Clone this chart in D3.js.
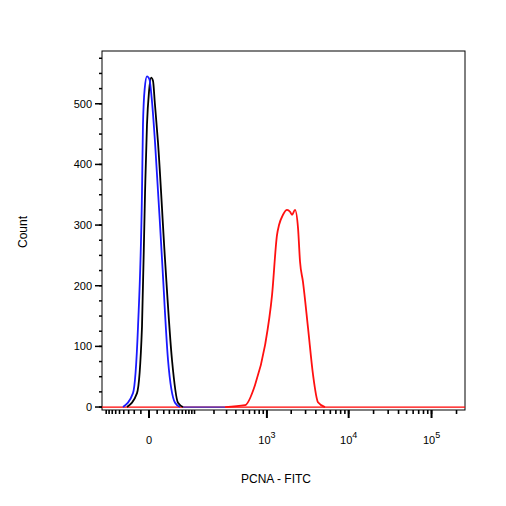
<!DOCTYPE html>
<html>
<head>
<meta charset="utf-8">
<script src="https://cdn.jsdelivr.net/npm/d3@7"></script>
<style>
  body { margin: 0; background: #fff; }
  text { font-family: Arial, "Liberation Sans", sans-serif; }
</style>
</head>
<body>
<div id="chart"></div>
<script>
// Histogram series: [fluorescence value, count]
const blueSeries = [[-41.8,0],[-22.1,23],[-14.1,132],[-8.5,353],[-7.2,465],[-5,525],[-2.3,545],[0.5,540],[3,510],[7.2,436],[17.2,243],[27.4,78],[41.8,7],[53.8,0]];
const blackSeries = [[-33.2,0],[-15.6,23],[-8.5,132],[-4.6,353],[-2.3,465],[0,520],[2.3,543],[4.6,538],[7,500],[11.2,436],[22.1,243],[35.2,78],[48.8,7],[62.0,0]];
const redSeries = [[286,0],[527,3],[707,36],[948,102],[1160,185],[1337,284],[1415,300],[1585,317],[1778,325],[1936,322],[2047,317],[2228,325],[2425,295],[2565,240],[2790,206],[3215,130],[3700,53],[4250,8],[5170,0]];
const yTicks = [0, 100, 200, 300, 400, 500];
const xMajor = [0, 1000, 10000, 100000];
const xMajorLabels = ["0", "3", "4", "5"];

const W = 506, H = 506;
const m = {left: 102, right: 465, top: 51, bottom: 410};

const svg = d3.select("#chart").append("svg").attr("width", W).attr("height", H);

const x = d3.scaleSymlog().constant(39.5).domain([-106, 253000]).range([m.left, m.right]);
const y = d3.scaleLinear().domain([-4.9, 587]).range([m.bottom, m.top]);

// frame
svg.append("rect").attr("x", m.left).attr("y", m.top).attr("width", m.right - m.left).attr("height", m.bottom - m.top)
  .attr("fill", "none").attr("stroke", "#000").attr("stroke-width", 1);

// y axis ticks
const yMinor = d3.range(0, 576, 25);
svg.selectAll(".ymin").data(yMinor).enter().append("line")
  .attr("x1", m.left - 3).attr("x2", m.left).attr("y1", d => y(d)).attr("y2", d => y(d))
  .attr("stroke", "#000").attr("stroke-width", 1.5);
svg.selectAll(".ymaj").data(yTicks).enter().append("line")
  .attr("x1", m.left - 7).attr("x2", m.left).attr("y1", d => y(d)).attr("y2", d => y(d))
  .attr("stroke", "#000").attr("stroke-width", 1.5);
svg.selectAll(".ylab").data(yTicks).enter().append("text")
  .attr("x", m.left - 10).attr("y", d => y(d) + 4).attr("text-anchor", "end")
  .attr("font-size", 11).text(d => d);

// x axis ticks
let xMinor = [];
for (let v = -100; v <= -10; v += 10) xMinor.push(v);
[10, 100, 1000, 10000, 100000].forEach(dec => {
  for (let k = 1; k <= 9; k++) xMinor.push(k * dec);
});
xMinor = xMinor.filter(v => x(v) >= m.left + 2 && x(v) <= m.right - 2);
svg.selectAll(".xmin").data(xMinor).enter().append("line")
  .attr("x1", d => x(d)).attr("x2", d => x(d)).attr("y1", m.bottom).attr("y2", m.bottom + 4)
  .attr("stroke", "#000").attr("stroke-width", 1.6);
svg.selectAll(".xmaj").data(xMajor).enter().append("line")
  .attr("x1", d => x(d)).attr("x2", d => x(d)).attr("y1", m.bottom).attr("y2", m.bottom + 8)
  .attr("stroke", "#000").attr("stroke-width", 2);
svg.selectAll(".xlab").data(xMajor).enter().append("text")
  .attr("x", d => x(d)).attr("y", 444).attr("text-anchor", "middle").attr("font-size", 11)
  .each(function(d, i) {
    const t = d3.select(this);
    if (i === 0) { t.text("0"); return; }
    t.append("tspan").text("10");
    t.append("tspan").attr("dy", -6).attr("font-size", 9).text(xMajorLabels[i]);
  });

// axis titles
svg.append("text").attr("x", 276).attr("y", 483).attr("text-anchor", "middle")
  .attr("font-size", 12).text("PCNA - FITC");
svg.append("text").attr("transform", "translate(27,232) rotate(-90)").attr("text-anchor", "middle")
  .attr("font-size", 12).text("Count");

// baseline lines along x axis
const line = d3.line().x(d => x(d[0])).y(d => y(d[1])).curve(d3.curveMonotoneX);
svg.append("line").attr("x1", m.left).attr("x2", m.right).attr("y1", y(0)).attr("y2", y(0))
  .attr("stroke", "#ff0000").attr("stroke-width", 1.2);
svg.append("line").attr("x1", x(62)).attr("x2", x(286)).attr("y1", y(0)).attr("y2", y(0))
  .attr("stroke", "#3333cc").attr("stroke-width", 1.2);

[[redSeries, "#ff1010"], [blackSeries, "#000"], [blueSeries, "#1a1aff"]].forEach(([s, c]) => {
  svg.append("path").datum(s).attr("fill", "none").attr("stroke", c)
    .attr("stroke-width", 1.8).attr("d", line);
});
</script>
</body>
</html>
